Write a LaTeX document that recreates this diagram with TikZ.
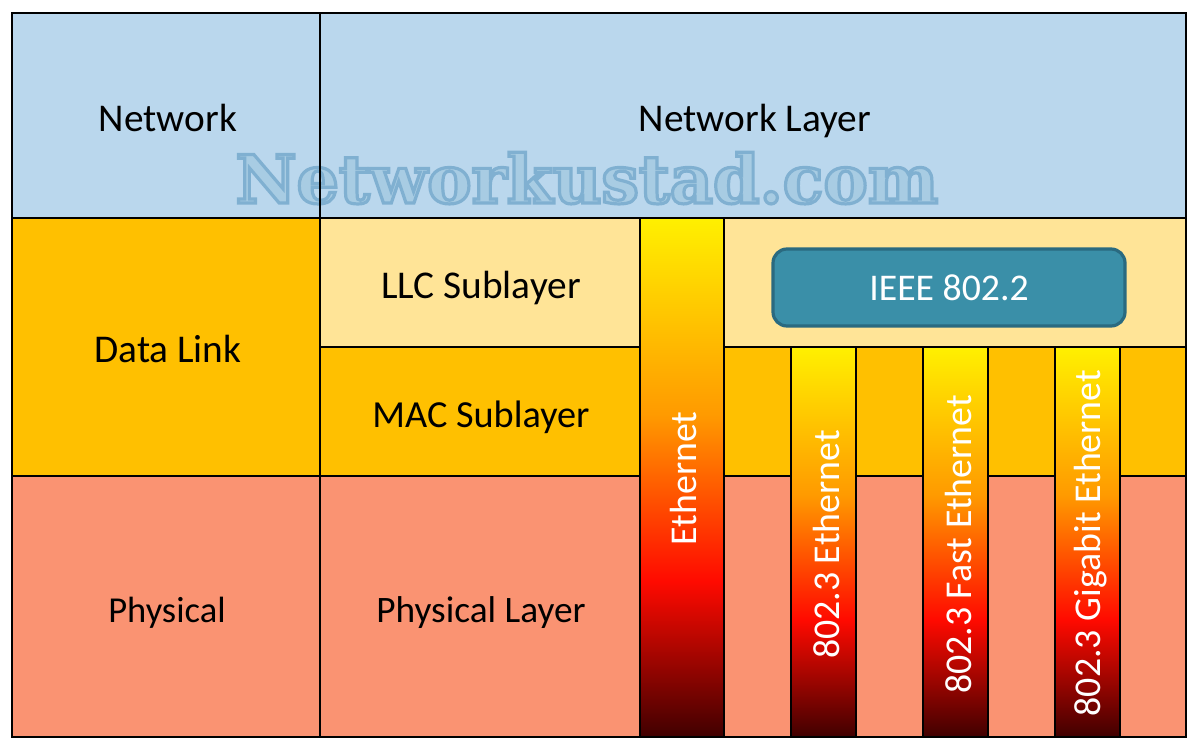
\documentclass[tikz,border=0pt]{standalone}
\usepackage{fontspec}
\setmainfont{Carlito}
\newfontfamily\wmfont{DejaVu Serif}[BoldFont={DejaVu Serif Bold}]
\definecolor{netblue}{HTML}{BAD7ED}
\definecolor{dlorange}{HTML}{FFC000}
\definecolor{llcyellow}{HTML}{FFE497}
\definecolor{physalmon}{HTML}{FA9372}
\definecolor{ieeefill}{HTML}{3A8FA8}
\definecolor{ieeeline}{HTML}{2A6A80}
\definecolor{gyel}{HTML}{FFF000}
\definecolor{gora}{HTML}{FF9A00}
\definecolor{gred}{HTML}{FF0A00}
\definecolor{gdark}{HTML}{400000}
\pgfdeclareverticalshading{barshade}{100bp}{color(0bp)=(gdark); color(25bp)=(gdark); color(40bp)=(gred); color(56bp)=(gora); color(75bp)=(gyel); color(100bp)=(gyel)}
\tikzset{
  cell/.style={draw=black,line width=1.5pt,inner sep=0pt,outer sep=0pt,align=center},
  barcell/.style={cell,shading=barshade},
  celltext/.style={anchor=base,inner sep=0pt,text=black,font=\fontsize{29.5}{32}\selectfont},
  mactext/.style={celltext,font=\fontsize{28.7}{32}\selectfont},
  phytext/.style={celltext,font=\fontsize{27.4}{32}\selectfont},
  phyltext/.style={celltext,font=\fontsize{28}{32}\selectfont},
  barlabel/.style={rotate=90,text=white,inner sep=0pt,font=\fontsize{28.4}{32}\selectfont},
  ieeebox/.style={draw=ieeeline,fill=ieeefill,line width=2.4pt,rounded corners=10.5pt,inner sep=0pt,text=white,font=\fontsize{28.3}{32}\selectfont},
}
\newcommand{\cellnode}[6]{%
  \node[cell,#6,minimum width={(#4-#2)*0.75pt},minimum height={(#5-#3)*0.75pt}] (#1) at ({(#2+#4)/2},{(#3+#5)/2}) {};}
\begin{document}
\begin{tikzpicture}[x=0.75pt,y=-0.75pt]
\useasboundingbox (0,0) rectangle (1198,749);
\fill[white] (0,0) rectangle (1198,749);
% top row
\cellnode{net}{12}{13}{320}{218}{fill=netblue}
\cellnode{netlayer}{320}{13}{1186}{218}{fill=netblue}
% data link
\cellnode{dl}{12}{218}{320}{476}{fill=dlorange}
\cellnode{llc}{320}{218}{640}{347}{fill=llcyellow}
\cellnode{mac}{320}{347}{640}{476}{fill=dlorange}
\cellnode{llcr}{724}{218}{1186}{347}{fill=llcyellow}
\cellnode{macr}{724}{347}{1186}{476}{fill=dlorange}
% physical
\cellnode{phy}{12}{476}{320}{737}{fill=physalmon}
\cellnode{phyl}{320}{476}{640}{737}{fill=physalmon}
\cellnode{phyr}{724}{476}{1186}{737}{fill=physalmon}
% bars
\cellnode{ethbar}{640}{218}{724}{737}{barcell}
\cellnode{barA}{791}{347}{856}{737}{barcell}
\cellnode{barB}{923}{347}{988}{737}{barcell}
\cellnode{barC}{1055}{347}{1120}{737}{barcell}
% outer border
\draw[line width=1.8pt] (12,13) rectangle (1186,737);
% watermark
\node[anchor=base,inner sep=0pt,font=\wmfont\bfseries\fontsize{50}{56}\selectfont] (wm) at (587,203)
  {\special{pdf:code 2 Tr 2.4 w 0.50 0.69 0.82 RG 0.66 0.80 0.89 rg}Networkustad.com\special{pdf:code 0 Tr}};
\draw[line width=1.5pt] (net.north east) -- (net.south east);
% labels
\node[celltext] (t1) at (168,131) {Network};
\node[celltext] (t2) at (755,131) {Network Layer};
\node[celltext] (t3) at (168,362) {Data Link};
\node[celltext] (t4) at (481,298) {LLC Sublayer};
\node[mactext] (t5) at (481,427) {MAC Sublayer};
\node[phytext] (t6) at (167,622) {Physical};
\node[phyltext] (t7) at (481,622) {Physical Layer};
\node[ieeebox,minimum width=264pt,minimum height=57.75pt] (ieee) at (949,287.5) {IEEE 802.2};
\node[barlabel] (l1) at (683,478.5) {Ethernet};
\node[barlabel] (l2) at (826,544.5) {802.3 Ethernet};
\node[barlabel] (l3) at (958,544.5) {802.3 Fast Ethernet};
\node[barlabel] (l4) at (1091,543) {802.3 Gigabit Ethernet};
\end{tikzpicture}
\end{document}
